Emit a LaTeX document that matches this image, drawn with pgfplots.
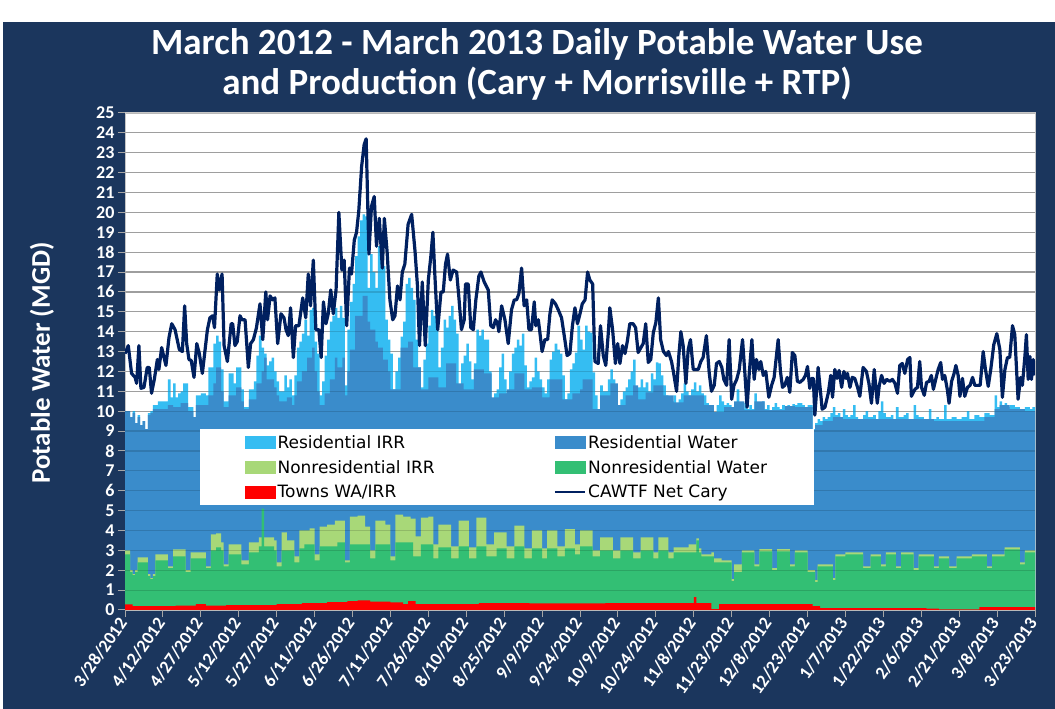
\documentclass[border=0pt]{standalone}
\usepackage{fontspec}
\setmainfont{Carlito}
\newfontfamily\legfont{DejaVu Sans}
\usepackage{pgfplots}
\usepackage{pgfplotstable}
\pgfplotsset{compat=1.18}
\definecolor{bgnavy}{HTML}{1B365D}
\definecolor{resirr}{HTML}{35BDF2}
\definecolor{reswat}{HTML}{3A8CCB}
\definecolor{nrirr}{HTML}{A8D878}
\definecolor{nrwat}{HTML}{33BF74}
\definecolor{towns}{HTML}{FF0000}
\definecolor{netcary}{HTML}{002060}

\pgfplotstableread{
x y
0 10.0
2 9.7
3 10.0
4 9.4
5 9.8
6 9.3
7 9.5
8 9.1
9 9.9
10 10.0
11 10.3
13 10.5
16 10.5
17 11.6
18 10.7
19 11.4
20 10.7
21 10.9
22 11.0
23 11.4
25 10.2
27 9.7
28 10.8
30 10.9
32 10.8
33 12.2
35 13.4
36 13.8
37 13.5
38 12.1
39 10.5
41 11.9
43 11.4
44 12.2
46 11.1
47 10.2
49 11.1
51 11.5
52 12.8
53 13.8
54 13.2
55 12.9
56 12.3
57 12.5
58 12.7
59 12.0
60 11.5
61 11.0
63 11.8
64 11.2
65 11.6
66 10.8
67 11.8
68 13.2
69 13.5
70 13.9
71 14.6
72 13.8
73 15.1
74 15.2
75 13.5
76 12.9
77 10.8
78 11.5
79 12.8
80 13.6
81 14.5
82 14.8
83 15.2
84 14.7
85 15.3
86 14.7
87 11.3
88 14.1
89 15.5
90 16.4
91 17.8
92 18.8
93 19.6
94 19.9
95 19.8
96 16.2
97 17.9
98 17.0
99 16.2
100 18.3
101 18.0
102 17.3
103 14.6
104 13.6
105 12.9
106 11.1
107 12.0
108 12.7
109 13.75
110 14.5
111 16.4
112 16.7
113 16.2
114 15.6
115 13.6
116 12.2
117 11.2
118 12.6
119 13.4
120 14.3
121 15.1
122 14.8
123 14.4
124 12.2
125 13.2
126 14.6
127 14.2
128 14.8
129 15.3
130 14.6
131 13.9
132 11.2
133 12.4
134 12.8
135 13.4
136 12.5
137 11.6
138 12.4
139 14.1
140 13.8
141 14.1
142 13.6
143 13.6
144 12.0
145 10.6
146 10.9
147 11.1
148 12.2
149 12.9
150 11.6
151 10.9
152 12.0
153 12.9
154 13.2
155 13.6
156 13.3
157 13.9
158 12.3
159 11.2
160 11.5
161 11.7
162 12.7
163 12.0
164 11.6
165 11.2
166 10.9
167 11.6
168 12.6
169 13.0
170 13.4
171 13.1
172 12.9
173 11.8
174 10.6
175 10.9
176 12.1
177 12.4
178 12.95
179 14.3
180 13.6
181 13.1
182 14.3
183 14.0
184 13.95
185 11.95
186 10.8
187 10.1
188 11.3
189 11.0
191 11.6
192 12.1
193 11.6
194 11.0
195 10.3
196 10.6
197 11.0
198 11.2
199 11.6
200 12.0
201 12.6
202 11.0
203 11.2
204 11.6
205 11.2
206 11.45
207 11.0
208 11.9
209 11.6
210 12.45
211 12.4
212 11.8
213 11.3
214 10.8
215 10.1
216 10.5
217 10.8
218 10.4
219 10.6
220 10.9
221 11.4
222 11.0
223 10.8
224 11.1
225 11.45
226 11.0
227 11.3
228 10.9
229 10.8
230 10.4
231 10.0
232 10.2
233 9.95
234 10.3
235 10.8
236 10.5
237 10.3
238 10.4
239 10.3
240 9.6
241 10.2
242 11.1
243 10.4
244 10.1
245 10.4
246 10.1
247 10.3
248 10.1
249 10.9
250 10.4
251 10.2
252 10.5
253 10.1
254 10.3
255 10.0
256 10.2
257 10.4
258 10.2
259 10.1
260 10.3
261 10.1
262 10.3
263 10.2
264 10.35
265 10.3
266 10.4
268 10.3
269 10.2
270 10.3
272 9.1
273 9.4
274 9.6
275 9.5
276 9.7
277 9.6
278 9.7
279 9.9
280 10.2
281 9.8
282 9.9
283 9.7
284 10.1
285 9.8
286 9.7
287 9.8
288 10.3
289 9.7
290 9.6
292 9.8
293 10.0
294 9.7
296 9.8
297 9.6
298 10.0
299 10.5
300 9.9
301 9.7
303 9.8
304 9.6
305 10.2
306 9.7
308 9.8
309 9.9
310 9.6
312 10.3
313 9.8
314 9.7
316 9.6
318 10.1
319 9.6
321 9.7
322 9.6
324 10.3
325 9.6
327 9.7
329 9.6
331 9.7
333 10.0
334 9.6
336 9.8
338 9.7
340 9.9
342 9.8
344 10.8
345 10.2
346 10.5
347 10.3
348 10.4
349 10.2
350 10.3
352 10.2
354 10.1
356 10.2
358 10.1
359 10.2
360 10.2
}\resirrtop

\pgfplotstableread{
x y
0 10.0
2 9.7
3 9.9
4 9.4
5 9.7
6 9.3
7 9.5
8 9.1
9 9.8
10 9.9
11 10.1
17 10.3
19 10.2
22 10.4
25 10.0
27 9.7
28 10.3
33 10.8
35 11.4
36 12.2
38 11.0
39 10.2
41 10.8
44 11.2
46 10.5
47 10.1
49 10.6
52 11.4
54 12.0
55 12.7
56 11.6
59 11.2
60 10.8
61 10.5
64 10.7
66 10.3
67 10.8
68 11.5
70 12.0
72 12.7
74 13.2
75 12.0
76 11.0
77 10.3
79 10.9
81 11.6
83 12.7
84 12.2
86 12.7
87 10.8
88 12.0
89 13.1
91 14.8
94 15.8
96 14.5
97 14.1
99 13.5
100 13.2
102 12.6
104 12.0
105 11.1
109 13.2
112 13.5
114 12.2
117 11.1
120 11.7
124 11.2
127 12.4
131 11.4
134 11.1
138 12.1
142 11.9
145 10.7
148 10.9
151 11.1
154 11.9
158 11.1
161 11.2
165 10.7
168 11.6
173 10.6
177 10.9
180 11.1
181 11.6
185 10.1
188 10.8
192 11.4
195 10.3
198 10.8
201 11.3
203 10.6
206 10.95
209 11.3
213 10.8
217 10.45
221 10.8
225 10.8
229 10.3
233 9.95
237 10.2
241 10.5
245 10.05
249 10.5
253 10.05
261 10.25
265 10.2
272 9.05
273 9.3
276 9.5
280 9.7
284 9.6
288 9.6
293 9.6
300 9.6
305 9.6
312 9.6
320 9.5
333 9.5
340 9.7
344 10.1
346 10.3
350 10.1
356 10.0
360 10.0
}\reswattop

\pgfplotstableread{
x y
0 3.0
2 2.0
3 1.8
4 2.0
5 2.65
9 1.8
10 1.6
11 1.8
12 2.8
17 2.2
19 3.05
24 2.0
26 2.9
32 2.2
34 3.8
36 3.85
38 3.4
39 2.3
41 3.3
46 2.5
49 3.4
53 3.65
59 3.5
60 2.4
62 3.9
64 3.5
67 2.7
69 4.0
73 4.1
75 2.8
77 4.2
80 4.3
83 4.5
87 2.5
89 4.7
92 4.75
95 4.2
97 3.0
99 4.5
103 4.3
105 2.7
107 4.8
110 4.7
113 4.6
115 3.7
117 4.65
120 4.7
122 3.3
124 4.3
129 3.2
132 4.5
136 3.15
139 4.65
143 3.3
146 3.9
151 3.2
154 4.25
158 3.1
161 4.0
165 3.1
167 4.0
171 3.2
174 4.07
178 3.3
180 4.0
185 3.0
188 3.65
193 3.0
196 3.65
201 2.9
204 3.65
209 2.9
211 3.65
215 2.9
217 3.15
223 3.3
226 3.6
227 3.1
228 2.8
232 2.9
233 2.6
236 2.5
240 1.55
241 2.3
244 3.0
249 2.3
251 3.06
256 2.1
258 3.06
263 2.3
265 3.0
270 2.0
273 1.5
274 2.3
280 1.6
281 2.8
285 2.9
292 2.2
295 2.8
299 2.3
301 2.9
305 2.2
307 2.9
312 2.1
314 2.8
320 2.2
322 2.7
326 2.2
329 2.7
335 2.8
341 2.2
343 2.8
348 3.15
354 2.4
356 3.0
360 3.0
}\nrirrtop

\pgfplotstableread{
x y
0 2.8
2 1.9
3 1.75
4 1.9
5 2.4
9 1.7
10 1.55
11 1.7
12 2.5
17 2.1
19 2.7
24 1.9
26 2.6
32 2.1
34 3.0
36 3.15
38 3.0
39 2.2
41 2.8
46 2.3
49 2.9
53 3.2
54 5.1
55 3.2
59 3.0
60 2.2
62 3.0
67 2.4
69 3.1
71 3.3
75 2.5
77 3.2
84 3.4
87 2.4
89 3.3
97 2.6
99 3.3
105 2.5
107 3.4
114 2.7
117 3.3
122 2.6
124 3.15
129 2.6
132 3.2
136 2.6
139 3.2
143 2.7
147 3.1
151 2.6
154 3.2
158 2.6
161 3.1
165 2.6
167 3.1
171 2.7
174 3.1
178 2.8
180 3.2
185 2.7
188 3.0
193 2.6
196 3.0
201 2.6
204 3.0
209 2.6
211 3.0
215 2.6
217 2.9
226 3.5
227 2.9
228 2.7
233 2.4
240 1.45
241 1.9
244 2.9
249 2.2
251 2.95
256 2.0
258 2.95
263 2.2
265 2.9
270 1.9
273 1.4
274 2.2
280 1.5
281 2.7
285 2.8
292 2.1
295 2.7
299 2.2
301 2.8
305 2.1
307 2.8
312 2.0
314 2.7
320 2.1
322 2.6
326 2.1
329 2.6
335 2.7
341 2.1
343 2.7
348 3.05
354 2.3
356 2.9
360 2.9
}\nrwattop

\pgfplotstableread{
x y
0 0.28
3 0.2
20 0.22
28 0.3
32 0.22
40 0.25
60 0.3
70 0.35
80 0.4
88 0.45
92 0.48
97 0.42
105 0.38
110 0.3
112 0.45
115 0.3
140 0.35
160 0.33
190 0.35
225 0.65
226 0.35
232 0.05
235 0.3
270 0.3
272 0.2
275 0.1
317 0.07
322 0.03
338 0.15
360 0.15
}\townstop

\pgfplotstableread{
x y
0 12.9
1.3 13.3
2.6 11.9
4 11.7
4.6 11.4
5.5 13.3
6.3 11.15
7.5 11.2
8.8 12.2
9.6 12.2
10.5 10.9
11.6 11.6
12.8 12.6
13.4 12.1
14.5 13.2
16.2 12.3
17.4 13.7
18.5 14.4
19.8 14.1
21.5 13.1
22.7 13.0
23.6 15.3
24.4 13.4
25.3 12.6
26.2 12.55
27.3 11.7
28.4 13.4
29.4 12.9
30.6 11.9
31.6 13.0
32.6 14.1
33.6 14.7
34.7 14.8
35.4 14.2
36.5 16.9
37.3 16.1
38.4 16.9
39.2 13.3
40.5 12.5
42 14.4
42.6 14.4
43.5 13.3
44.4 13.5
45.5 14.8
46.3 14.6
47.5 14.6
48.8 12.2
49.7 13.4
50.8 13.6
52 14.2
53.4 15.4
54.5 13.6
55.7 16.0
56.4 14.6
57.4 15.8
58.4 15.6
59.3 15.7
60.4 13.4
61.7 14.9
62.9 14.7
63.7 14.1
64.6 13.8
65.5 15.2
66.6 12.7
67.5 14.3
68.8 14.3
70.3 15.7
71.5 14.7
72.5 16.9
73.4 15.3
74.5 17.6
75.5 14.1
76.7 14.1
77.6 12.7
78.5 15.5
79.5 14.4
80.4 14.9
81.4 16.1
82.4 14.9
83.5 16.1
84.6 20.0
85.8 17.1
86.7 17.6
87.7 14.3
88.8 17.2
89.6 16.9
90.7 18.6
91.6 19.0
92.5 20.1
93.6 22.3
94.6 23.4
95.4 23.7
96.5 17.9
97.5 20.3
98.6 20.8
99.5 18.3
100.6 19.7
101.8 17.2
102.6 19.7
103.7 18.0
104.8 15.6
105.9 14.6
106.8 14.8
107.8 16.3
108.8 15.6
109.7 17.0
110.7 17.4
112 19.4
113.4 19.9
114.7 18.1
115.7 16.3
116.5 13.3
117.6 16.5
118.8 13.3
120 16.6
121 17.8
121.8 19.0
122.6 16.8
123.7 14.1
125 16.0
125.9 16.0
126.8 17.4
127.6 17.9
128.7 16.6
129.8 17.1
131.2 17.0
132.1 15.7
133.1 14.1
134.2 14.6
134.7 16.4
135.8 16.4
136.8 14.2
137.8 14.1
138.8 15.6
140 16.8
140.8 17.0
142.1 16.5
143.7 16.1
144.7 14.3
145.7 14.2
146.6 14.6
147.4 14.4
147.9 14.0
149 15.3
150.3 14.6
151.6 13.4
152.9 15.1
154 15.6
154.9 15.6
155.8 15.9
156.9 17.2
157.9 15.3
158.9 15.6
159.8 14.1
160.8 14.1
161.9 15.5
162.5 14.3
163.5 14.6
164.1 14.0
165 13.0
166.1 13.6
167.2 13.6
168.1 14.9
169 15.6
170.3 15.4
171.4 15.1
172.7 14.7
174 13.6
174.9 12.8
176 12.9
177 14.3
178 15.2
179 14.4
180 14.9
180.9 15.4
182 15.6
183 17.0
183.9 16.6
185 16.4
185.9 12.5
187.2 12.4
188.1 14.3
189.2 12.8
190.2 12.3
191.2 13.95
191.8 15.2
192.9 14.1
194 12.4
194.9 13.4
195.8 12.4
196.8 13.3
197.8 12.9
198.7 13.5
199.7 14.4
201 14.4
202 14.2
203 12.95
204.1 13.2
205 13.4
206 14.4
207 12.45
208 12.6
209 13.95
210 14.45
211 15.7
211.9 13.6
213 13.0
214.2 12.8
215 13.0
216.2 12.5
217 11.95
218.2 11.0
219.1 12.8
219.9 14.0
220.8 13.3
221.9 11.4
222.8 13.1
223.7 13.6
224.8 12.1
225.8 12.1
226.8 12.1
227.8 12.5
228.7 12.7
230 13.8
231.1 11.95
232 11.0
233.1 11.3
234 12.4
235.1 12.5
236.1 12.2
236.9 11.6
238 11.3
239 13.6
240 10.6
240.9 11.3
242 11.6
243 12.1
244.3 13.6
245.2 11.95
246.1 10.2
246.9 11.8
248 13.6
248.9 11.6
249.8 12.6
250.8 12.1
251.5 12.5
252.5 11.8
253.5 12.0
254.7 10.7
255.8 11.3
256.8 11.7
257.3 12.3
258.4 13.6
259.3 12.0
260.1 11.2
261 11.3
262 11.7
263 10.95
264 12.95
265 12.8
266 11.5
267 11.45
268.3 11.6
269.2 11.8
270 12.25
270.9 11.15
271.6 11.65
272.3 11.65
272.9 9.8
273.7 11.2
274.2 12.2
275.2 10.9
275.8 10.1
276.9 10.2
278.2 10.9
279.2 11.8
279.9 10.7
280.8 12.1
281.7 11.65
282.5 12.05
283.5 11.2
284.4 12.0
285.2 11.65
285.8 11.9
286.8 11.2
287.7 11.7
288.7 11.65
289.8 11.2
290.7 10.75
292 12.2
293.3 12.0
294.3 11.4
295.3 10.4
296.4 12.1
297.6 10.4
298.4 11.3
299.3 11.8
300.3 11.4
301.3 11.6
302.6 11.5
303.6 11.6
304.6 11.4
305.6 10.9
306.5 12.3
307.5 12.4
308.5 11.9
309.6 12.6
310.5 12.7
311.1 10.75
312.5 11.1
313.5 11.2
314.4 12.5
315.1 11.2
316.2 10.8
317.1 11.45
318.1 11.5
319 11.8
319.8 11.1
321 11.75
321.7 12.1
322.7 12.45
323.4 11.6
324.3 11.8
325.3 11.1
326 10.4
327 11.5
328 11.9
328.7 12.3
329.6 11.8
330.3 10.75
331.3 11.65
332.2 10.75
333.3 11.2
334.3 11.3
335.3 11.7
336.2 11.3
337.2 11.3
338.3 11.3
339.5 13.0
340.4 12.1
341.5 11.25
342.5 12.1
343.7 13.35
344.9 13.9
346.1 13.1
347.1 10.7
348.1 12.1
349.1 12.7
350 12.7
351.1 14.3
352 13.85
353.3 10.6
354.3 11.7
355 11.3
356 12.75
356.6 13.85
357.3 11.6
358 12.75
358.6 11.6
359.3 12.6
360 11.8
}\netcarydata

\begin{document}
\begin{tikzpicture}[x=1pt,y=1pt]
\path[use as bounding box] (0,0) rectangle (1055,709);
\fill[white] (0,0) rectangle (1055,709);
\fill[bgnavy] (3,0) rectangle (1055,687);
\node[white, font=\fontsize{37}{40}\selectfont\bfseries, align=center] at (537,645)
  {March 2012 - March 2013 Daily Potable Water Use\\and Production (Cary + Morrisville + RTP)};
\begin{axis}[
  at={(125pt,99pt)}, anchor=south west, scale only axis,
  width=910pt, height=497pt,
  xmin=0, xmax=360, ymin=0, ymax=25,
  axis background/.style={fill=white},
  xtick={0,15,...,360},
  xticklabels={3/28/2012,4/12/2012,4/27/2012,5/12/2012,5/27/2012,6/11/2012,6/26/2012,7/11/2012,7/26/2012,8/10/2012,8/25/2012,9/9/2012,9/24/2012,10/9/2012,10/24/2012,11/8/2012,11/23/2012,12/8/2012,12/23/2012,1/7/2013,1/22/2013,2/6/2013,2/21/2013,3/8/2013,3/23/2013},
  ytick={0,1,...,25},
  ymajorgrids, major grid style={gray!55, line width=1.2pt},
  tick align=outside, xtick pos=bottom, ytick pos=left,
  major tick length=7pt, tick style={gray!70, line width=1pt},
  axis line style={gray!45, line width=1pt},
  /pgf/number format/assume math mode=true,
  yticklabel style={white, font=\fontsize{18}{18}\selectfont\bfseries},
  xticklabel style={white, font=\fontsize{18}{18}\selectfont\bfseries, rotate=55, anchor=east},
  ylabel={Potable Water (MGD)},
  ylabel style={white, font=\fontsize{27}{27}\selectfont\bfseries, at={(axis description cs:-0.0912,0.497)}, anchor=center},
]
\addplot[fill=resirr, draw=none, const plot] table {\resirrtop} \closedcycle;
\addplot[fill=reswat, draw=none, const plot] table {\reswattop} \closedcycle;
\addplot[fill=nrirr, draw=none, const plot] table {\nrirrtop} \closedcycle;
\addplot[fill=nrwat, draw=none, const plot] table {\nrwattop} \closedcycle;
\addplot[fill=towns, draw=none, const plot] table {\townstop} \closedcycle;
\addplot[netcary, line width=3.2pt, line join=round] table {\netcarydata};
\end{axis}
\begin{axis}[
  at={(125pt,99pt)}, anchor=south west, scale only axis,
  width=910pt, height=497pt,
  xmin=0, xmax=360, ymin=0, ymax=25,
  xtick=\empty, ytick={1,2,...,24}, yticklabel=\empty,
  ymajorgrids, major grid style={black, opacity=0.14, line width=1.2pt},
  axis line style={draw=none}, major tick length=0pt, tick style={draw=none},
  legend columns=2,
  legend style={at={(0.0824,0.364)}, anchor=north west, draw=none, fill=white,
    font=\legfont\fontsize{17}{17}\selectfont, inner xsep=45pt, inner ysep=4pt,
    nodes={inner sep=2pt}, row sep=6.5pt,
    /tikz/every even column/.append style={column sep=117pt},
    cells={anchor=west}},
]
\addplot[draw=none, forget plot] coordinates {(0,0)};
\addlegendimage{legend image code/.code={\fill[resirr] (0pt,-6pt) rectangle (30pt,6pt);}}
\addlegendentry{Residential IRR}
\addlegendimage{legend image code/.code={\fill[reswat] (0pt,-6pt) rectangle (30pt,6pt);}}
\addlegendentry{Residential Water}
\addlegendimage{legend image code/.code={\fill[nrirr] (0pt,-6pt) rectangle (30pt,6pt);}}
\addlegendentry{Nonresidential IRR}
\addlegendimage{legend image code/.code={\fill[nrwat] (0pt,-6pt) rectangle (30pt,6pt);}}
\addlegendentry{Nonresidential Water}
\addlegendimage{legend image code/.code={\fill[towns] (0pt,-6pt) rectangle (30pt,6pt);}}
\addlegendentry{Towns WA/IRR}
\addlegendimage{legend image code/.code={\draw[netcary, line width=2.5pt] (0pt,0pt) -- (30pt,0pt);}}
\addlegendentry{CAWTF Net Cary}
\end{axis}
\end{tikzpicture}
\end{document}
